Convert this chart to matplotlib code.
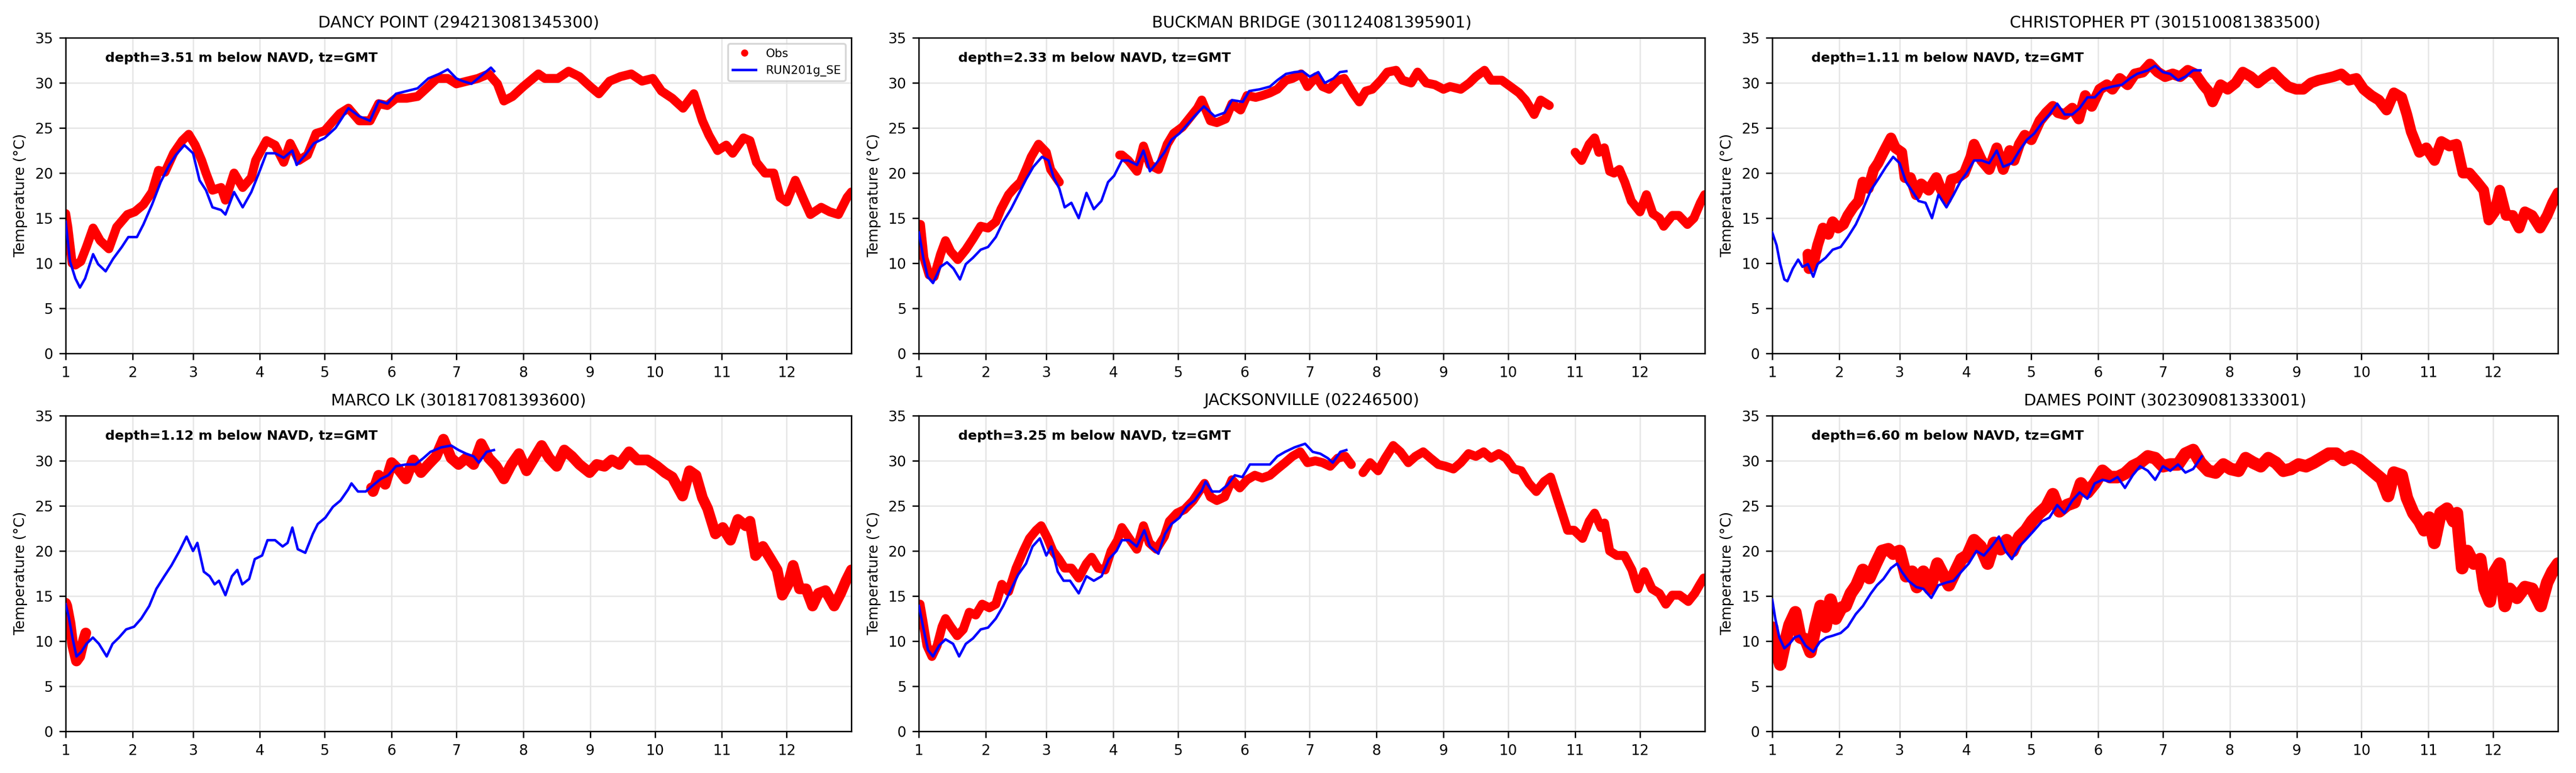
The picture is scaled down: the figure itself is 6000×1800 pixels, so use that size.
import numpy as np
import matplotlib
matplotlib.use('Agg')
import matplotlib.pyplot as plt

# x = day of year (0 = Jan 1), y = water temperature in deg C
nan = np.nan
month_starts = [0, 31, 59, 90, 120, 151, 181, 212, 243, 273, 304, 334]
month_labels = [str(m) for m in range(1, 13)]

titles = ['DANCY POINT (294213081345300)', 'BUCKMAN BRIDGE (301124081395901)',
          'CHRISTOPHER PT (301510081383500)', 'MARCO LK (301817081393600)',
          'JACKSONVILLE (02246500)', 'DAMES POINT (302309081333001)']
depths = [3.51, 2.33, 1.11, 1.12, 3.25, 6.60]

obs_dancy = [(0, 15.5), (1, 14), (3, 10), (4.5, 9.8), (7, 10.2), (9.6, 11.8), (12.7, 13.9), (16, 12.5),
             (20, 11.6), (23.6, 14), (28.6, 15.4), (32, 15.7), (36, 16.5), (40, 17.9), (43, 20.3),
             (46, 20.1), (50, 22.2), (54, 23.6), (57, 24.3), (60, 23.1), (63, 21.4), (65, 20),
             (68, 18.1), (72, 18.4), (74, 17), (78, 20), (82, 18.4), (86, 19.5), (88, 21.4),
             (93, 23.6), (97, 23.1), (101, 21.2), (104, 23.3), (108, 21.4), (112, 22), (116, 24.4),
             (120, 24.7), (124, 25.8), (127, 26.6), (131, 27.2), (136, 25.8), (141, 25.8),
             (145, 27.7), (149, 27.5), (153, 28.3), (158, 28.3), (163, 28.5), (168, 29.6),
             (172, 30.5), (177, 30.5), (181, 29.9), (186, 30.2), (191, 30.5), (196, 31),
             (200, 29.9), (203, 28), (207, 28.5), (212, 29.6), (219, 31), (222, 30.5), (228, 30.5),
             (233, 31.3), (238, 30.7), (243, 29.6), (247, 28.8), (252, 30.2), (257, 30.7), (262, 31),
             (267, 30.2), (272, 30.5), (276, 29.1), (281, 28.3), (286, 27.2), (291, 28.8),
             (295, 25.8), (298, 24.2), (302, 22.5), (306, 23.1), (309, 22.2), (314, 23.9),
             (317, 23.6), (320, 21.2), (324, 20), (328, 20), (331, 17.3), (334, 16.8), (338, 19.2),
             (342, 17), (345, 15.4), (350, 16.2), (354, 15.7), (358, 15.4), (362, 17.3), (364, 17.9)]
mod_dancy = [(0, 14.6), (2, 10.2), (4.5, 8.3), (6.6, 7.3), (9, 8.3), (12.7, 11), (15, 9.9), (18.5, 9.1),
             (22, 10.5), (26, 11.8), (29, 12.9), (33, 12.9), (36, 14.3), (40, 16.5), (44, 19),
             (48, 20.9), (51, 22), (55, 23.1), (59, 22.2), (62, 19.2), (65, 18.1), (68, 16.2),
             (72, 15.9), (74, 15.4), (78, 17.9), (82, 16.2), (86, 17.9), (89.5, 20), (93, 22.2),
             (97, 22.2), (101, 21.7), (105, 22.5), (107, 20.9), (111, 22), (115, 23.3), (120, 23.9),
             (125, 25), (131, 27.2), (136, 26.3), (141, 25.8), (145, 28), (149, 27.7), (153, 28.8),
             (158, 29.1), (163, 29.4), (168, 30.5), (173, 31), (177, 31.5), (181, 30.5),
             (184, 30.2), (188, 29.9), (192, 30.7), (197, 31.7), (198.5, 31.3)]

obs_buckman = [(0, 14.3), (0.7, 14.3), (2.3, 10.6), (4.7, 8.7), (7, 8.5), (10, 11), (12.3, 12.5),
               (14.7, 11.3), (18, 10.4), (21.7, 11.5), (25, 12.7), (28.6, 14.1), (32, 13.9),
               (35.6, 14.6), (38, 16), (41.5, 17.6), (44, 18.3), (47, 19), (49.6, 20.4), (52, 21.8),
               (55.4, 23.2), (59, 22.3), (61, 20.4), (65, 19), (66, nan), (93, 22), (94, 22),
               (97, 21.4), (101, 20.2), (104, 23), (107, 20.9), (111, 20.4), (115, 23.2), (118, 24.4),
               (122, 25.1), (125, 26), (129, 27.2), (131, 28.1), (135, 25.8), (138, 25.6), (142, 26),
               (145, 27.7), (149, 27), (152, 28.6), (156, 28.4), (159, 28.6), (162.6, 28.9),
               (166, 29.3), (170, 30.3), (173, 30.5), (177, 31), (180, 29.6), (184, 30.7),
               (187, 29.6), (190, 29.3), (194, 30.3), (197, 30.5), (201, 28.9), (204, 27.9),
               (207, 29.1), (210, 29.3), (214, 30.3), (217, 31.2), (221, 31.4), (224, 30.3),
               (228, 30), (231, 31.2), (235, 30), (239, 29.8), (243, 29.3), (246, 29.6), (251, 29.3),
               (255, 30), (258, 30.7), (262, 31.4), (265, 30.3), (270, 30.3), (274, 29.6),
               (278, 28.9), (281, 28.1), (285, 26.5), (288, 28.1), (292, 27.5), (293, nan),
               (304, 22.3), (307, 21.4), (310.5, 23.2), (313, 23.9), (315, 22.3), (317.5, 22.8),
               (320, 20.2), (322, 20), (324.5, 20.4), (327, 19), (330, 16.9), (334, 15.7), (337, 17.6),
               (340, 15.5), (343, 15), (345, 14.1), (349, 15.3), (352, 15.3), (356, 14.3), (359, 15),
               (362, 16.7), (364, 17.6)]
mod_buckman = [(0, 13.4), (2, 10.6), (4, 8.5), (6.5, 7.8), (10, 9.6), (13, 10.1), (16, 9.4), (19, 8.2),
               (21.7, 9.9), (25, 10.6), (28.6, 11.5), (32, 11.8), (35.6, 12.9), (39, 14.6), (42.6, 16),
               (46, 17.6), (49.6, 19.3), (53, 20.7), (57, 21.8), (60, 21.4), (62.4, 19.5), (65, 18.3),
               (67.5, 16.2), (70.6, 16.7), (74, 15), (77.6, 17.8), (81, 16), (84.5, 16.9), (87.6, 19),
               (90.4, 19.7), (94, 21.4), (97, 21.4), (101, 20.9), (104, 22.5), (107, 20.2), (110, 21.1),
               (113.7, 22.3), (117, 23.7), (120.7, 24.4), (124, 25.3), (127.6, 26.3), (132, 27.4),
               (137, 26.3), (141.6, 26.7), (145, 28.1), (150, 27.9), (153, 29.1), (158, 29.3),
               (162.6, 29.6), (166, 30.3), (170, 31), (174, 31.2), (177.7, 31.3), (181, 30.7),
               (185, 31.2), (188, 30), (192, 30.5), (195, 31.2), (198, 31.3)]

obs_christopher = [(16.5, 11), (17, 9.4), (19, 9.9), (21, 12), (23.5, 13.9), (26, 13.2), (28, 14.6),
                   (30.5, 13.9), (33, 14.3), (35, 15.3), (37.5, 16.2), (40, 16.9), (42, 19), (44.5, 18.3),
                   (47, 20.4), (49, 21.1), (51.5, 22.3), (55, 23.9), (57, 22.8), (60, 22.3), (61.5, 19.5),
                   (64, 19.5), (66.7, 17.6), (69, 18.8), (72.5, 18.1), (76, 19.5), (78, 18.3), (80.7, 17.1),
                   (83, 19.3), (86, 19.5), (89, 20), (92, 21.8), (93.5, 23.2), (97, 21.4), (100.5, 20.4),
                   (104, 22.8), (107, 20.4), (110, 22.5), (112, 21.4), (114.5, 23.2), (117, 24.2),
                   (120, 23.7), (124, 25.8), (127, 26.7), (130, 27.4), (132.4, 26.7), (135.5, 26.5),
                   (139, 27.2), (142, 26), (145, 28.6), (148, 27.4), (151.7, 29.3), (155, 29.8),
                   (157.6, 29.3), (161, 30.5), (164.6, 29.8), (168, 31), (171.6, 31.2), (175, 32.1),
                   (178.6, 31.2), (182, 30.7), (185.5, 31), (189, 30.7), (192.5, 31.4), (196, 31),
                   (199.5, 29.8), (202, 29.1), (204, 27.9), (207.7, 29.8), (211, 29.3), (214.7, 30),
                   (218, 31.2), (221.7, 30.7), (225, 30), (228.7, 30.7), (232, 31.2), (235.7, 30.3),
                   (239, 29.6), (242.7, 29.3), (246, 29.3), (249.6, 30), (253, 30.3), (256.6, 30.5),
                   (260, 30.7), (263.6, 31), (267, 30.3), (270.6, 30.5), (274, 29.3), (277.6, 28.6),
                   (281, 28.1), (284.6, 27), (288, 28.9), (291.6, 28.4), (294, 26.5), (296, 24.6),
                   (299.8, 22.3), (303, 22.8), (306.8, 21.4), (310, 23.5), (313.7, 23), (317, 23.2),
                   (320, 20), (323, 20), (326.6, 19), (329.6, 18.1), (332, 14.8), (334.7, 15.7),
                   (337, 18.1), (340, 15.3), (343, 15.3), (346, 13.9), (348.7, 15.7), (352, 15.3),
                   (355.7, 13.9), (359, 15.3), (361.5, 16.7), (364, 17.8)]
mod_christopher = [(0, 13.4), (2, 12), (3.7, 9.9), (5.6, 8.2), (7, 8), (9.5, 9.4), (12, 10.4), (14, 9.6),
                   (16.5, 9.9), (19, 8.5), (21, 9.9), (24.7, 10.6), (28, 11.5), (31.7, 11.8), (35, 12.9),
                   (38.7, 14.3), (42, 16), (45.7, 18.1), (49, 19.3), (52.7, 20.7), (56, 21.8), (59, 21.1),
                   (62, 19), (64, 18.3), (67.8, 16.9), (71, 16.7), (74, 15), (77, 17.6), (80.7, 16.2),
                   (84, 17.6), (87, 19), (90, 20), (93.5, 21.4), (97, 21.4), (100.5, 21.1), (104, 22.5),
                   (107, 20.7), (111, 21.1), (114.5, 22.5), (118, 23.7), (121.4, 24.4), (125, 25.6),
                   (128.4, 26.5), (132, 27.7), (135.5, 26.5), (139, 26.5), (142.4, 27.2), (146, 28.4),
                   (149.4, 28.4), (153, 29.3), (157.6, 29.6), (162, 29.8), (165.7, 30.5), (169, 31),
                   (174, 31.4), (177.4, 31.9), (181, 31.2), (184.4, 31), (188, 30.3), (191.4, 30.7),
                   (195, 31.4), (198.4, 31.4)]

obs_marco = [(0, 14.2), (0.5, 13.9), (2, 12), (3.3, 9.5), (5, 7.8), (6.5, 8.3), (8.4, 10.2), (9.3, 10.9),
             (10, nan), (141.7, 27), (142.4, 26.6), (145, 28.4), (148, 27.4), (151, 29.8), (154, 29.1),
             (157.6, 28), (161, 30.1), (164.6, 28.7), (168, 29.6), (171.6, 30.5), (175, 32.4),
             (178.6, 30.3), (182, 29.6), (185.5, 30.3), (189, 29.6), (192.5, 31.9), (196, 30.3),
             (199.5, 29.4), (203, 28), (206.5, 29.6), (210, 30.8), (213.5, 28.9), (217, 30.3),
             (220.5, 31.7), (224, 30.3), (227.5, 29.4), (231, 31.2), (234.5, 30.5), (238, 29.6),
             (242.7, 28.7), (246, 29.6), (249.6, 29.4), (253, 30.1), (256.6, 29.6), (261, 31),
             (264.8, 30.1), (269.5, 30.1), (274, 29.4), (277.6, 28.7), (281, 28.2), (285.8, 26.1),
             (289, 28.9), (292, 28.4), (295, 25.9), (297.4, 24.7), (301, 21.9), (304.4, 22.6),
             (308, 21.2), (311.4, 23.5), (315, 22.8), (317, 23.3), (319.6, 19.5), (323, 20.5),
             (326.6, 19.1), (329.6, 17.9), (332, 15.1), (334.7, 16.3), (337, 18.4), (340, 15.8),
             (343, 15.8), (346, 13.9), (348.7, 15.3), (352, 15.6), (356, 13.9), (359, 15.3),
             (361.5, 16.7), (364, 17.9)]
mod_marco = [(0, 14.1), (1.4, 12.7), (3.3, 10.2), (5, 8.3), (7.2, 8.8), (9.6, 9.7), (12.6, 10.4),
             (15.4, 9.7), (19, 8.3), (21.7, 9.7), (24.7, 10.4), (28, 11.3), (31.7, 11.6), (35, 12.5),
             (38.7, 13.9), (42, 15.8), (45.7, 17.2), (49, 18.4), (52.7, 20), (56, 21.6), (59, 20),
             (61, 20.9), (64, 17.7), (66.7, 17.2), (69, 16.3), (71, 16.7), (74, 15.1), (77, 17.2),
             (79.5, 17.9), (81.8, 16.3), (85, 16.9), (87.6, 19.1), (91, 19.5), (93.5, 21.2), (97, 21.2),
             (100.5, 20.5), (102.8, 20.9), (105, 22.6), (107.5, 20.2), (111, 19.8), (114.5, 21.9),
             (116.8, 23), (120.3, 23.7), (123.8, 24.9), (127.3, 25.6), (130.8, 26.8), (132.4, 27.5),
             (135.4, 26.6), (139, 26.6), (142.4, 27.3), (146, 28), (149.4, 28.4), (153, 29.4),
             (157.6, 29.6), (162, 29.6), (165.7, 30.3), (169, 31), (174, 31.5), (178.6, 31.7),
             (182, 31.2), (185.5, 30.8), (189, 30.5), (191.4, 29.8), (195, 31), (198.4, 31.2)]

obs_jax = [(0, 14.1), (0.5, 14.1), (2, 12), (3.7, 9.5), (6, 8.3), (8.4, 9.5), (10.7, 11.6), (12.3, 12.5),
           (14.7, 11.6), (17.7, 10.6), (20.5, 11.3), (23.3, 13.2), (26.3, 12.9), (29.3, 14.1),
           (32.6, 13.7), (35.6, 14.1), (38.4, 16.3), (41.5, 15.5), (45, 18.1), (48.4, 20), (51.2, 21.4),
           (54.3, 22.3), (56.6, 22.8), (59.6, 21.4), (62, 20), (64.8, 19.1), (67.5, 18.1), (70.6, 18.1),
           (74, 17), (77.6, 18.6), (80, 19.3), (83, 18.1), (86.2, 17.9), (89, 20), (92, 21.2),
           (94, 22.6), (97.4, 21.4), (100.9, 20.2), (104, 22.8), (106.7, 20.9), (110, 20.2),
           (113.7, 21.6), (116, 23.3), (119.5, 24.2), (123, 24.6), (127, 25.6), (130, 26.7),
           (132.3, 27.5), (135, 26), (138, 25.6), (141.6, 26), (145, 27.9), (148.6, 27), (152, 27.9),
           (155.6, 28.4), (159, 28.1), (162.6, 28.4), (166, 29.1), (169.6, 29.8), (173, 30.5),
           (176.6, 31), (180, 29.8), (183.6, 30), (187, 29.8), (190.5, 29.4), (194, 30.3),
           (197.5, 30.5), (200.3, 29.6), (202, nan), (205.7, 28.7), (209, 29.8), (212.7, 28.9),
           (216, 30.3), (219.7, 31.7), (223, 31), (226.7, 29.8), (230, 30.5), (233.6, 31), (237, 30.3),
           (240.6, 29.6), (244, 29.4), (247.6, 29.1), (251, 29.8), (254.6, 30.8), (258, 30.5),
           (261.6, 31), (265, 30.3), (268.6, 30.8), (272, 30.3), (275.6, 29.1), (279, 28.9),
           (282.6, 27.5), (286, 26.6), (289.6, 27.7), (292.6, 28.2), (295.4, 26.1), (297.7, 24.4),
           (300.5, 22.3), (303.5, 22.3), (307.4, 21.4), (310.5, 23.3), (313, 24.2), (316, 22.6),
           (317.6, 23.1), (320, 20), (323.3, 19.5), (326.8, 19.5), (330.3, 17.9), (333, 15.8),
           (336, 17.7), (339.6, 15.8), (343, 15.3), (346, 14.1), (349, 15.1), (352.4, 15.1),
           (356.4, 14.4), (359.4, 15.3), (361.8, 16.3), (363.6, 17)]
mod_jax = [(0, 13.9), (1.9, 11.6), (4.2, 9), (6.5, 8.3), (9.3, 9.5), (12.3, 10.2), (15.8, 9.7), (18.6, 8.3),
           (21.7, 9.7), (25, 10.3), (28.6, 11.3), (32, 11.5), (35.6, 12.5), (39, 13.9), (42.6, 15.7),
           (46, 17.4), (49.6, 18.6), (52.6, 20.5), (56, 21.4), (59, 19.5), (61.3, 20.5), (64.3, 17.7),
           (67, 16.7), (70, 16.7), (74, 15.3), (77.6, 17.2), (81, 16.7), (84.6, 17.2), (88, 19.1),
           (91.5, 20), (94, 21.2), (97.4, 21.2), (100.9, 20.5), (104.4, 22.3), (107, 20.5),
           (110.9, 19.7), (114, 21.9), (117, 23), (120.7, 23.7), (124, 24.9), (127.6, 25.6), (131, 26.7),
           (132.8, 27.7), (135.8, 26.6), (139.3, 26.6), (142.8, 27.3), (146.3, 28.4), (149.8, 28.2),
           (153.3, 29.6), (158, 29.6), (162.6, 29.6), (166, 30.5), (169.6, 31), (174, 31.5),
           (178.9, 31.9), (182.4, 31), (185.9, 30.8), (189.4, 30.3), (191.7, 29.8), (195.2, 31),
           (198, 31.2)]

obs_dames = [(0, 11.5), (0.5, 10.6), (2, 8.8), (3.7, 7.4), (5.6, 9.5), (8, 11.8), (10.7, 13.2), (13, 10.4),
             (15.4, 10.2), (17.7, 8.8), (20, 11.6), (22.4, 13.9), (24.7, 11.6), (27, 14.6), (29.4, 12.5),
             (32, 13.7), (34, 13.9), (36.4, 15.3), (39, 16.2), (42, 17.9), (45, 17), (48, 18.6),
             (50.8, 20), (53.8, 20.2), (56, 19.7), (59, 20), (62, 17.2), (64.8, 17.7), (67, 16),
             (70, 17.7), (73, 15.8), (76.5, 18.6), (79.5, 17.2), (81.8, 16.2), (84.8, 17.7), (87.6, 19.1),
             (90.4, 19.5), (93.5, 21.2), (96.5, 20.5), (99.8, 18.6), (102.8, 20.9), (105.8, 20.2),
             (108.6, 21.2), (111.4, 20), (114.5, 21.6), (117.5, 22.3), (120.3, 23.3), (123.8, 24.2),
             (127, 24.9), (130, 26.3), (133, 24.4), (136.6, 25.1), (140, 25.4), (143, 27.5), (146, 26.5),
             (149.4, 27.5), (153, 28.9), (156.4, 28.2), (160, 28.2), (163.4, 28.6), (167, 29.4),
             (170.4, 29.8), (174, 30.5), (177.4, 30.3), (181, 29.4), (184.4, 29.6), (188, 29.6),
             (191.4, 30.8), (195, 31.2), (198.4, 29.8), (202, 28.9), (205.4, 28.7), (209, 29.6),
             (212.4, 29.1), (216, 28.9), (219.3, 30.3), (222.8, 29.8), (226.3, 29.4), (229.8, 30.3),
             (233.3, 29.8), (236.8, 28.9), (240.3, 29.1), (243.8, 29.6), (247.3, 29.4), (250.8, 29.8),
             (254.3, 30.3), (257.8, 30.8), (261.3, 30.8), (264.8, 30.1), (268.3, 30.5), (271.8, 30.1),
             (275.3, 29.4), (278.8, 28.7), (282.3, 28), (285.3, 26.1), (288, 28.7), (291.6, 28.4),
             (294, 25.9), (297, 24.2), (299.8, 23.3), (302, 22.3), (304.4, 23.7), (306.7, 20.9),
             (309.6, 24.2), (312.6, 24.7), (315.6, 23.3), (317.2, 24.2), (319.6, 18.1), (322, 20),
             (325, 18.6), (328, 19.1), (330, 15.8), (332.4, 14.4), (334.7, 17.7), (337, 18.6),
             (339.4, 13.9), (341.6, 15.8), (345, 14.8), (348.7, 16), (352, 15.8), (356, 13.9),
             (359, 16.5), (361.4, 17.7), (364, 18.6)]
mod_dames = [(0, 14.6), (1.4, 12.5), (3.3, 10.4), (5.6, 9.2), (8, 9.7), (10.3, 10.4), (12.6, 10.6),
             (15.4, 9.5), (19, 8.8), (22, 9.9), (25, 10.4), (28, 10.6), (31.7, 10.9), (35, 11.6), (38.7, 13),
             (42, 13.9), (45.7, 15.3), (48.5, 16.2), (51.5, 16.9), (55, 18.1), (57.8, 18.6), (60, 17.7),
             (63, 16.7), (66.7, 16), (70, 15.8), (73.7, 14.8), (77, 16.2), (80.7, 16.5), (84, 16.7),
             (87.6, 17.7), (91, 18.6), (94.6, 20), (98, 19.5), (101.6, 20.5), (105, 21.6), (108, 20),
             (111, 19.1), (114.5, 20.5), (118, 21.4), (121.4, 22.3), (125, 23.3), (128.4, 23.7),
             (132, 25.1), (135.4, 24.2), (139, 25.6), (142.4, 26.5), (146, 25.8), (149.4, 27.5),
             (153, 27.9), (156.4, 27.7), (160, 28.2), (163.4, 27), (167, 28.4), (170.4, 29.4), (174, 28.9),
             (177.4, 27.9), (181, 29.4), (184.4, 28.9), (188, 29.6), (191.4, 28.7), (195, 29.1),
             (199, 30.5)]

obs_all = [obs_dancy, obs_buckman, obs_christopher, obs_marco, obs_jax, obs_dames]
mod_all = [mod_dancy, mod_buckman, mod_christopher, mod_marco, mod_jax, mod_dames]
obs_lw = [5, 5, 6, 6, 5, 7]

fig, axes = plt.subplots(2, 3, figsize=(20, 6), dpi=300)
fig.subplots_adjust(left=0.0255, right=0.993, top=0.951, bottom=0.054, wspace=0.086, hspace=0.198)

for i, ax in enumerate(axes.flat):
    od, ot = np.array(obs_all[i], dtype=float).T
    md, mt = np.array(mod_all[i], dtype=float).T
    ax.plot(od, ot, color='red', lw=obs_lw[i], solid_capstyle='round', solid_joinstyle='round', zorder=2)
    ax.plot(od, ot, 'o', color='red', ms=3, label='Obs', zorder=2)
    ax.plot(md, mt, color='blue', lw=1.4, label='RUN201g_SE', zorder=3)

    ax.set_xlim(0, 364)
    ax.set_ylim(0, 35)
    ax.set_xticks(month_starts)
    ax.set_xticklabels(month_labels)
    ax.set_yticks(range(0, 36, 5))
    ax.tick_params(labelsize=8)
    ax.grid(True, color='#e6e6e6', lw=0.8, zorder=0)
    ax.set_axisbelow(True)
    ax.set_ylabel('Temperature (°C)', fontsize=8)
    ax.set_title(titles[i], fontsize=9)
    ax.text(0.05, 0.935, 'depth=%.2f m below NAVD, tz=GMT' % depths[i], transform=ax.transAxes,
            fontsize=7.5, fontweight='bold', va='center', ha='left')
    if i == 0:
        ax.legend(loc='upper right', fontsize=6.5)

fig.savefig('out.png', dpi=300)
